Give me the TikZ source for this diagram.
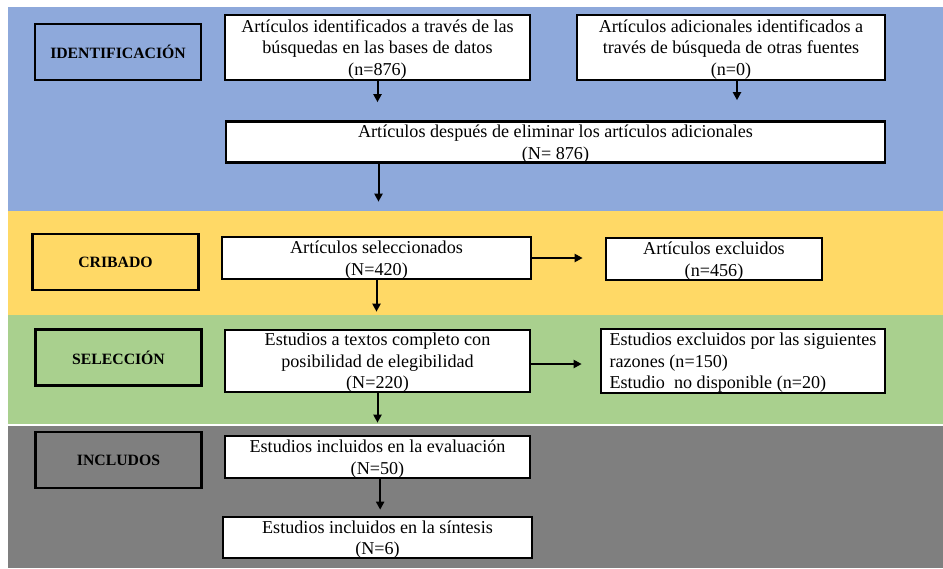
\documentclass[tikz,border=0pt]{standalone}
\usepackage{fontspec}
\setmainfont{Liberation Serif}
\usetikzlibrary{arrows.meta}
\definecolor{bandblue}{HTML}{8EA9DB}
\definecolor{bandyellow}{HTML}{FFD966}
\definecolor{bandgreen}{HTML}{A9D08E}
\definecolor{bandgray}{HTML}{7F7F7F}

\begin{document}
\begin{tikzpicture}[x=0.75pt,y=-0.75pt,
    box/.style={draw,line width=2pt,fill=white,inner sep=0pt,align=center,text depth=0pt,
      font=\fontsize{13.6}{16.2}\selectfont},
    phase/.style={draw,line width=2pt,inner sep=0pt,minimum width=124.5pt,
      minimum height=42pt,font=\fontsize{11.8}{14}\selectfont\bfseries},
    arr/.style={-{Triangle[length=6pt,width=6pt]},line width=1.5pt}]
            \useasboundingbox (0,0) rectangle (943,568);

            % phase bands
            \fill[bandblue] (8,7) rectangle (943,211);
            \fill[bandyellow] (8,211) rectangle (943,315);
            \fill[bandgreen] (8,315) rectangle (943,424);
            \fill[bandgray] (8,426) rectangle (943,568);

            \node[phase] (ident) at (118,52) {IDENTIFICACIÓN};
            \node[phase] (crib) at (115.5,262) {CRIBADO};
            \node[phase] (selec) at (118.5,357.5) {SELECCIÓN};
            \node[phase] (incl) at (118.5,460) {INCLUDOS};

            \node[box,minimum width=228.75pt,minimum height=48.75pt] (bases) at (377.5,47.5)
                {Artículos identificados a través de las\\búsquedas en las bases de datos\\(n=876)};
            \node[box,minimum width=231pt,minimum height=48.75pt] (otras) at (731,47.5)
                {Artículos adicionales identificados a\\través de búsqueda de otras fuentes\\(n=0)};
            \node[box,minimum width=494.25pt,minimum height=30.75pt] (elim) at (555.5,142)
                {Artículos después de eliminar los artículos adicionales\\(N= 876)};
            \node[box,minimum width=231.75pt,minimum height=31.5pt] (selart) at (376.5,258)
                {Artículos seleccionados\\(N=420)};
            \node[box,minimum width=162pt,minimum height=31.5pt] (exclart) at (714,259)
                {Artículos excluidos\\(n=456)};
            \node[box,minimum width=228.75pt,minimum height=46.5pt] (texto) at (377.5,361)
                {Estudios a textos completo con\\posibilidad de elegibilidad\\(N=220)};
            \node[box,align=left,minimum width=213pt,minimum height=48pt] (excltex) at (743,361)
                {Estudios excluidos por las siguientes\\razones (n=150)\\Estudio\ \ no disponible (n=20)};
            \node[box,minimum width=228.75pt,minimum height=31.5pt] (evalu) at (377.5,457)
                {Estudios incluidos en la evaluación\\(N=50)};
            \node[box,minimum width=231.75pt,minimum height=30.75pt] (sintes) at (377.5,537.5)
                {Estudios incluidos en la síntesis\\(N=6)};

            % arrows, short of the next box as in the original
            \draw[arr,shorten >=13.5pt] (bases.south) -- (bases.south |- elim.north);
            \draw[arr,shorten >=15pt] ([xshift=4.5pt]otras.south) -- ([xshift=4.5pt]otras.south |- elim.north);
            \draw[arr,shorten >=25.5pt] ([xshift=1.5pt]selart.north |- elim.south) -- ([xshift=1.5pt]selart.north);
            \draw[arr,shorten >=12.75pt] (selart.south) -- (selart.south |- texto.north);
            \draw[arr,shorten >=16.5pt] (selart.east) -- (selart.east -| exclart.west);
            \draw[arr,shorten >=9pt] (texto.south) -- (texto.south |- evalu.north);
            \draw[arr,shorten >=13.5pt] ([yshift=-2.25pt]texto.east) -- ([yshift=-2.25pt]texto.east -| excltex.west);
            \draw[arr,shorten >=4.5pt] ([xshift=2pt]evalu.south) -- ([xshift=2pt]evalu.south |- sintes.north);
        \end{tikzpicture}
\end{document}
